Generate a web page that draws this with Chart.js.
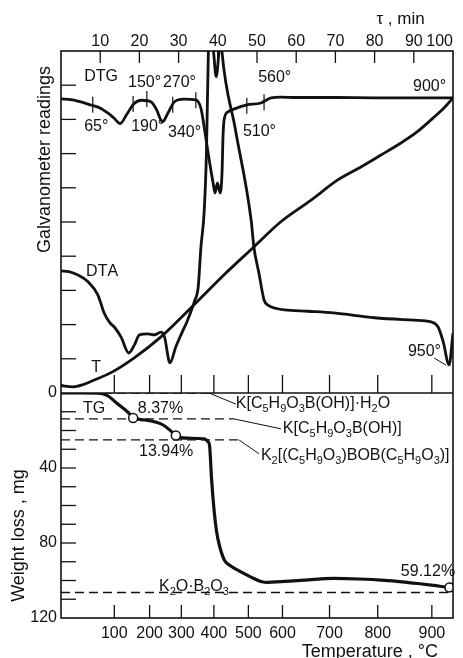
<!DOCTYPE html>
<html lang="en">
<head>
<meta charset="UTF-8">
<title>DTG / DTA / T / TG</title>
<script src="https://cdn.jsdelivr.net/npm/chart.js"></script>
<style>
  html, body { margin: 0; padding: 0; background: #fff; }
</style>
</head>
<body>
<canvas id="chart" width="463" height="658"></canvas>
<script>
// temperature marks placed on the time axis (tau, min)
const tempLabels = [100, 200, 300, 400, 500, 600, 700, 800, 900];
const tempTau = [13.6, 22.6, 30.7, 39.0, 47.8, 56.5, 68.5, 80.8, 94.6];

// DTG curve (tau, galvanometer reading)
const dtgTau = [0, 2.5, 5.1, 7.6, 10.2, 12, 13.5, 15.1, 16.8, 18.6, 20.6, 23, 24.3, 25.9, 27.3, 28.9, 31.4, 34.4, 35.7, 36.5, 37.5, 38.8, 39.3, 39.9, 40.6, 41.1, 41.3, 41.6, 42.6, 44.1, 47.2, 51, 53.6, 56.1, 60, 70, 80, 90, 100];
const dtgVal = [86, 85.8, 85.1, 84.2, 83.2, 81.8, 80.4, 78.8, 81.5, 84.6, 85.6, 85.1, 83, 79.3, 81.9, 85.1, 85.9, 85.7, 83.2, 78, 70.4, 61.4, 58.5, 61.4, 58.5, 65, 74, 79.8, 82.2, 83, 84.2, 84.8, 86.3, 86.5, 86.4, 86.4, 86.3, 86.3, 86.3];

// DTA curve
const dtaTau = [0, 2, 4.3, 6.9, 9.4, 11, 12.5, 13.6, 15.3, 17.3, 18.7, 20, 22.1, 23.8, 25.5, 26.4, 27.8, 29.3, 30.8, 32.3, 34.1, 35, 35.7, 36.5, 37.1, 37.6, 38.2, 38.9, 39.6, 40.3, 40.7, 41.0, 44.5, 48.5, 49.2, 50.5, 51.8, 52.8, 55, 57, 63, 69.6, 80, 90, 94.4, 96.2, 97.5, 99, 100];
const dtaVal = [35.7, 35.5, 34.5, 32.5, 28.7, 23.4, 20.5, 19.3, 16.4, 11.7, 14, 17, 17.3, 17, 17.8, 16.4, 8.8, 13.5, 17.5, 21.3, 27, 31, 42.7, 52.6, 70, 100, 108, 100, 92.5, 100, 106, 100.5, 77, 50.6, 42.7, 35, 27.2, 25.7, 24.7, 24.3, 23.9, 23.4, 22, 21.3, 20.8, 19.3, 15, 8.2, 17.5];

// T curve
const tTau = [0, 3, 5.5, 8.5, 13, 18.6, 25.5, 34.4, 42, 49.2, 56, 63.8, 70.6, 76.5, 81.5, 86.7, 91, 95.2, 98, 100];
const tVal = [2.2, 1.8, 2.4, 3.8, 6.1, 10.2, 16.4, 26.3, 35, 42.7, 50, 56.4, 62.3, 66.1, 69.5, 73.1, 76.5, 80.7, 83.7, 86.3];

// TG curve (tau, weight loss mg)
const tgTau = [0, 5, 10.2, 12, 14.5, 17, 18.7, 20.5, 22.2, 25.5, 28, 29.3, 30.5, 32.3, 36.6, 37.5, 37.9, 38.4, 39.1, 39.7, 40.4, 41.7, 43.5, 45.9, 48.5, 51, 52.8, 56, 61.2, 69.7, 76, 82.5, 87, 91, 95, 99, 100];
const tgLoss = [0, 0, 0.2, 1.6, 5.9, 10.1, 13.3, 14.2, 14.6, 16.5, 20.2, 22.9, 23.8, 24.1, 24.5, 26, 28, 45.7, 63.5, 74, 81.2, 89.2, 92.5, 95.4, 98.2, 100.5, 101, 100.6, 99.9, 98.9, 99.2, 99.9, 100.7, 101.6, 102.6, 103.7, 103.9];

// open circles on TG
const markTau = [18.4, 29.3, 99.1];
const markLoss = [13.3, 22.7, 103.7];

// temperature marks crossing DTG
const dtgMarkTau = [8.1, 18.4, 21.9, 28.5, 34.4, 47.4, 51.8];
const dtgMarkVal = [84.3, 84.5, 86, 84.3, 85.6, 84, 85];

// compound levels (dashed) and their leaders
const levelLoss = [0, 13.8, 25, 106.4];
const levelEndTau = [37.8, 44.1, 45.4, 100];
const leaderTau = [44.6, 56.1, 50.5, null];
const leaderLoss = [5.9, 19.1, 32.4, null];

const notes = [
  { panel: 'yTop', x: 5.9, y: 92.4, text: 'DTG' },
  { panel: 'yTop', x: 17.1, y: 90.9, text: '150°' },
  { panel: 'yTop', x: 26, y: 90.9, text: '270°' },
  { panel: 'yTop', x: 5.9, y: 77.8, text: '65°' },
  { panel: 'yTop', x: 17.9, y: 77.8, text: '190°' },
  { panel: 'yTop', x: 27.3, y: 76, text: '340°' },
  { panel: 'yTop', x: 50.3, y: 92.1, text: '560°' },
  { panel: 'yTop', x: 46.4, y: 76.3, text: '510°' },
  { panel: 'yTop', x: 89.8, y: 89.5, text: '900°' },
  { panel: 'yTop', x: 6.4, y: 35.4, text: 'DTA' },
  { panel: 'yTop', x: 7.7, y: 7.3, text: 'T' },
  { panel: 'yTop', x: 88.5, y: 12, text: '950°' },
  { panel: 'yBot', x: 5.6, y: 8.5, text: 'TG' },
  { panel: 'yBot', x: 19.6, y: 8.5, text: '8.37%' },
  { panel: 'yBot', x: 19.9, y: 31.4, text: '13.94%' },
  { panel: 'yBot', x: 86.7, y: 95.2, text: '59.12%' },
  { panel: 'yBot', x: 25, y: 103.2, text: 'K_2O·B_2O_3' },
  { panel: 'yBot', x: 44.6, y: 5.9, text: 'K[C_5H_9O_3B(OH)]·H_2O' },
  { panel: 'yBot', x: 56.6, y: 19.1, text: 'K[C_5H_9O_3B(OH)]' },
  { panel: 'yBot', x: 51, y: 33.5, text: 'K_2[(C_5H_9O_3)BOB(C_5H_9O_3)]' }
];
const leader950 = { x1: 95.2, y1: 10.2, x2: 98.2, y2: 8.2 };

const INK = '#111';
const FONT = '"Liberation Sans", Arial, sans-serif';
const NB = n => '\u00a0'.repeat(n);

const toPts = (xs, ys) => xs.map((x, i) => ({ x: x, y: ys[i] }));

function drawRich(ctx, text, x, y) {
  let cx = x;
  for (let i = 0; i < text.length; i++) {
    let ch = text[i], sub = false;
    if (ch === '_') { sub = true; ch = text[++i]; }
    ctx.font = (sub ? 11 : 16) + 'px ' + FONT;
    ctx.fillText(ch, cx, sub ? y + 5 : y);
    cx += ctx.measureText(ch).width;
  }
}

const curve = (label, xs, ys, axis, width) => ({
  label: label,
  data: toPts(xs, ys),
  yAxisID: axis,
  borderColor: INK,
  borderWidth: width,
  pointRadius: 0,
  cubicInterpolationMode: 'monotone',
  order: 2
});

const levelSets = levelLoss.map((w, i) => {
  const pts = [{ x: 0, y: w }, { x: levelEndTau[i], y: w }];
  if (leaderTau[i] !== null) pts.push({ x: leaderTau[i], y: leaderLoss[i] });
  return {
    label: 'level ' + i,
    data: pts,
    yAxisID: 'yBot',
    borderColor: INK,
    borderWidth: 1.3,
    pointRadius: 0,
    order: 3,
    segment: {
      borderDash: c => c.p1DataIndex === 2 ? [] : [9, 5],
      borderWidth: c => c.p1DataIndex === 2 ? 1 : 1.3
    }
  };
});

// frame, inner tick marks and labels
const thermoDecor = {
  id: 'thermoDecor',
  afterDatasetsDraw(chart) {
    const { ctx, chartArea: a, scales } = chart;
    const xs = scales.x, yt = scales.yTop, yb = scales.yBot;
    const line = (x1, y1, x2, y2) => { ctx.beginPath(); ctx.moveTo(x1, y1); ctx.lineTo(x2, y2); ctx.stroke(); };
    ctx.save();
    ctx.strokeStyle = INK;
    ctx.lineWidth = 1.6;
    ctx.strokeRect(a.left, a.top, a.right - a.left, a.bottom - a.top);
    line(a.left, yt.bottom, a.right, yt.bottom);

    ctx.lineWidth = 1.3;
    for (let v = 10; v < 100; v += 10) {
      const x = xs.getPixelForValue(v);
      line(x, a.top, x, a.top + 12);
    }
    tempTau.forEach(t => {
      const x = xs.getPixelForValue(t);
      line(x, yt.bottom, x, yt.bottom - 18);
      line(x, a.bottom, x, a.bottom - 13);
    });
    for (let v = 10; v < 100; v += 10) {
      const y = yt.getPixelForValue(v);
      line(a.left, y, a.left + 15, y);
    }
    for (let v = 10; v < 120; v += 10) {
      const y = yb.getPixelForValue(v);
      line(a.left, y, a.left + 15, y);
    }

    ctx.lineWidth = 1;
    line(xs.getPixelForValue(leader950.x1), yt.getPixelForValue(leader950.y1),
         xs.getPixelForValue(leader950.x2), yt.getPixelForValue(leader950.y2));

    ctx.fillStyle = INK;
    ctx.textAlign = 'left';
    ctx.textBaseline = 'middle';
    notes.forEach(n => {
      drawRich(ctx, n.text, xs.getPixelForValue(n.x), scales[n.panel].getPixelForValue(n.y));
    });
    ctx.restore();
  }
};

new Chart(document.getElementById('chart'), {
  type: 'line',
  data: {
    datasets: [
      {
        label: 'TG marks',
        data: toPts(markTau, markLoss),
        yAxisID: 'yBot',
        showLine: false,
        pointRadius: 4.5,
        pointBackgroundColor: '#fff',
        pointBorderColor: INK,
        pointBorderWidth: 1.5,
        order: 0
      },
      {
        label: 'DTG marks',
        data: toPts(dtgMarkTau, dtgMarkVal),
        yAxisID: 'yTop',
        showLine: false,
        pointStyle: 'line',
        pointRotation: 90,
        pointRadius: 8,
        pointBorderColor: INK,
        pointBorderWidth: 1.2,
        order: 1
      },
      curve('DTG', dtgTau, dtgVal, 'yTop', 2.8),
      curve('DTA', dtaTau, dtaVal, 'yTop', 2.8),
      curve('T', tTau, tVal, 'yTop', 2.8),
      curve('TG', tgTau, tgLoss, 'yBot', 3.2),
      ...levelSets
    ]
  },
  options: {
    responsive: false,
    animation: false,
    layout: { autoPadding: false, padding: { left: 8, right: 10, top: 0, bottom: 0 } },
    plugins: { legend: { display: false }, tooltip: { enabled: false } },
    scales: {
      x: {
        type: 'linear',
        position: 'bottom',
        min: 0,
        max: 100,
        afterBuildTicks: s => { s.ticks = tempTau.map(v => ({ value: v })); },
        afterFit: s => { s.height = 40; },
        grid: { drawOnChartArea: false, drawTicks: false },
        border: { display: false },
        ticks: {
          autoSkip: false, maxRotation: 0, padding: 6, color: INK,
          font: { family: FONT, size: 16 },
          callback: (v, i) => tempLabels[i]
        },
        title: {
          display: true, text: 'Temperature , °C' + NB(3), align: 'end', color: INK,
          font: { family: FONT, size: 18, lineHeight: 0.7 }, padding: { top: 0, bottom: 0 }
        }
      },
      xTop: {
        type: 'linear',
        position: 'top',
        min: 0,
        max: 100,
        afterFit: s => { s.height = 51; },
        grid: { drawOnChartArea: false, drawTicks: false },
        border: { display: false },
        ticks: {
          stepSize: 10, maxRotation: 0, padding: 0, align: 'inner', color: INK,
          font: { family: FONT, size: 16 },
          callback: v => v === 0 ? '' : v
        },
        title: {
          display: true, text: 'τ , min' + NB(6), align: 'end', color: INK,
          font: { family: FONT, size: 17 }, padding: { top: 9, bottom: 0 }
        }
      },
      yBot: {
        type: 'linear',
        position: 'left',
        stack: 'panels',
        stackWeight: 225,
        min: 0,
        max: 120,
        reverse: true,
        afterFit: s => { s.width = 53; },
        grid: { drawOnChartArea: false, drawTicks: false },
        border: { display: false },
        ticks: { stepSize: 20, padding: 4, color: INK, font: { family: FONT, size: 16 } },
        title: {
          display: true, text: 'Weight loss , mg' + NB(12), align: 'center', color: INK,
          font: { family: FONT, size: 18 }, padding: { top: 0, bottom: 0 }
        }
      },
      yTop: {
        type: 'linear',
        position: 'left',
        stack: 'panels',
        stackWeight: 342,
        min: 0,
        max: 100,
        afterFit: s => { s.width = 53; },
        grid: { drawOnChartArea: false, drawTicks: false },
        border: { display: false },
        ticks: { display: false },
        title: {
          display: true, text: 'Galvanometer readings' + NB(3), align: 'end', color: INK,
          font: { family: FONT, size: 18 }, padding: { top: 26, bottom: 0 }
        }
      }
    }
  },
  plugins: [thermoDecor]
});
</script>
</body>
</html>
